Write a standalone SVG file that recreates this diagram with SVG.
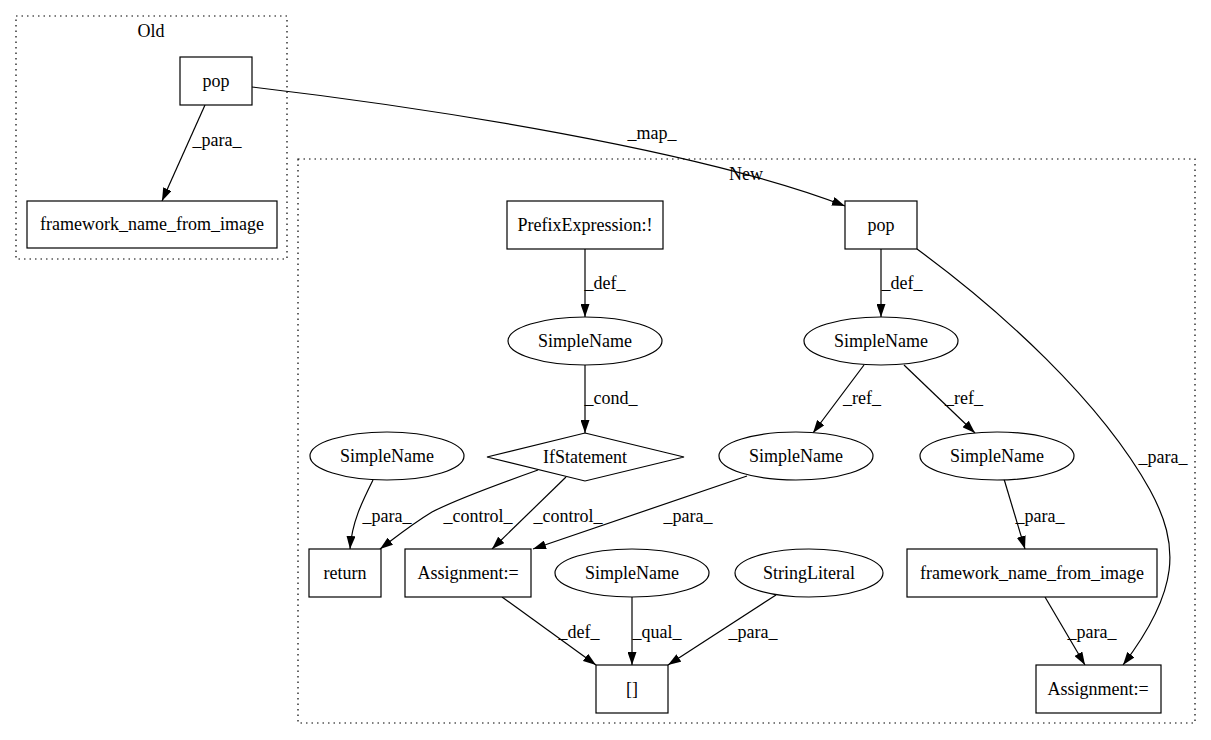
<svg xmlns="http://www.w3.org/2000/svg" width="1211" height="740" viewBox="0 0 1211 740">
<style>
text{font-family:"Liberation Serif","Times New Roman",serif;font-size:18px;fill:#000;text-anchor:middle}
.n{fill:#fff;stroke:#000;stroke-width:1.2}
.c{fill:none;stroke:#000;stroke-width:1.2;stroke-dasharray:1.5,4}
.e{fill:none;stroke:#000;stroke-width:1.2;marker-end:url(#a)}
</style>
<defs>
<marker id="a" viewBox="0 0 13 9" refX="13" refY="4.5" markerWidth="13" markerHeight="9" markerUnits="userSpaceOnUse" orient="auto">
<path d="M0,0 L13,4.5 L0,9 z" fill="#000"/>
</marker>
</defs>
<rect width="1211" height="740" fill="#fff"/>
<g id="cluster_old">
<rect class="c" x="16" y="16" width="271" height="243"/>
<text x="151" y="37">Old</text>
</g>
<g id="cluster_new">
<rect class="c" x="298" y="159" width="897" height="564"/>
<text x="746" y="180">New</text>
</g>
<g id="edges">
<path class="e" d="M205,105 L162,201"/>
<text x="217" y="146">_para_</text>
<path class="e" d="M252,87 C430,108 700,150 845,206"/>
<text x="652" y="139">_map_</text>
<path class="e" d="M585,249 L585,317"/>
<text x="605" y="289">_def_</text>
<path class="e" d="M585,364 L585,433"/>
<text x="611" y="404">_cond_</text>
<path class="e" d="M881,249 L881,317"/>
<text x="902" y="289">_def_</text>
<path class="e" d="M864,365 L813,433"/>
<text x="862" y="404">_ref_</text>
<path class="e" d="M904,365 L975,433"/>
<text x="964" y="404">_ref_</text>
<path class="e" d="M917,249 C1000,310 1100,400 1150,490 C1180,545 1180,590 1123,665"/>
<text x="1163" y="463">_para_</text>
<path class="e" d="M1004,479 L1025,549"/>
<text x="1040" y="522">_para_</text>
<path class="e" d="M1045,597 L1085,665"/>
<text x="1092" y="638">_para_</text>
<path class="e" d="M373,480 C362,502 352,522 350,549"/>
<text x="387" y="522">_para_</text>
<path class="e" d="M538,470 C490,487 455,500 432,512 C412,524 396,537 380,549"/>
<text x="478" y="522">_control_</text>
<path class="e" d="M566,477 L492,549"/>
<text x="568" y="522">_control_</text>
<path class="e" d="M747,476 L533,549"/>
<text x="688" y="522">_para_</text>
<path class="e" d="M502,597 L596,665"/>
<text x="579" y="638">_def_</text>
<path class="e" d="M632,597 L632,665"/>
<text x="657" y="638">_qual_</text>
<path class="e" d="M776,595 L668,665"/>
<text x="753" y="638">_para_</text>
</g>
<g id="old_pop"><rect class="n" x="180" y="57" width="72" height="48"/><text x="216" y="87">pop</text></g>
<g id="old_fnfi"><rect class="n" x="27" y="201" width="250" height="47"/><text x="152" y="230">framework_name_from_image</text></g>
<g id="prefix"><rect class="n" x="507" y="201" width="156" height="48"/><text x="585" y="231">PrefixExpression:!</text></g>
<g id="sn1"><ellipse class="n" cx="585" cy="341" rx="77" ry="24"/><text x="585" y="347">SimpleName</text></g>
<g id="ifstmt"><polygon class="n" points="585,433 684,457 585,481 487,457"/><text x="585" y="463">IfStatement</text></g>
<g id="sn_left"><ellipse class="n" cx="387" cy="456" rx="77" ry="24"/><text x="387" y="462">SimpleName</text></g>
<g id="new_pop"><rect class="n" x="845" y="201" width="72" height="48"/><text x="881" y="231">pop</text></g>
<g id="sn2"><ellipse class="n" cx="881" cy="341" rx="77" ry="24"/><text x="881" y="347">SimpleName</text></g>
<g id="sn_mid"><ellipse class="n" cx="796" cy="456" rx="77" ry="24"/><text x="796" y="462">SimpleName</text></g>
<g id="sn_right"><ellipse class="n" cx="997" cy="456" rx="77" ry="24"/><text x="997" y="462">SimpleName</text></g>
<g id="ret"><rect class="n" x="309" y="549" width="72" height="48"/><text x="345" y="579">return</text></g>
<g id="assign1"><rect class="n" x="405" y="549" width="126" height="48"/><text x="468" y="579">Assignment:=</text></g>
<g id="sn_low"><ellipse class="n" cx="632" cy="573" rx="77" ry="24"/><text x="632" y="579">SimpleName</text></g>
<g id="strlit"><ellipse class="n" cx="809" cy="573" rx="74" ry="24"/><text x="809" y="579">StringLiteral</text></g>
<g id="new_fnfi"><rect class="n" x="907" y="549" width="250" height="48"/><text x="1032" y="579">framework_name_from_image</text></g>
<g id="idx"><rect class="n" x="596" y="665" width="72" height="48"/><text x="632" y="695">[]</text></g>
<g id="assign2"><rect class="n" x="1036" y="665" width="125" height="48"/><text x="1098" y="695">Assignment:=</text></g>
</svg>
